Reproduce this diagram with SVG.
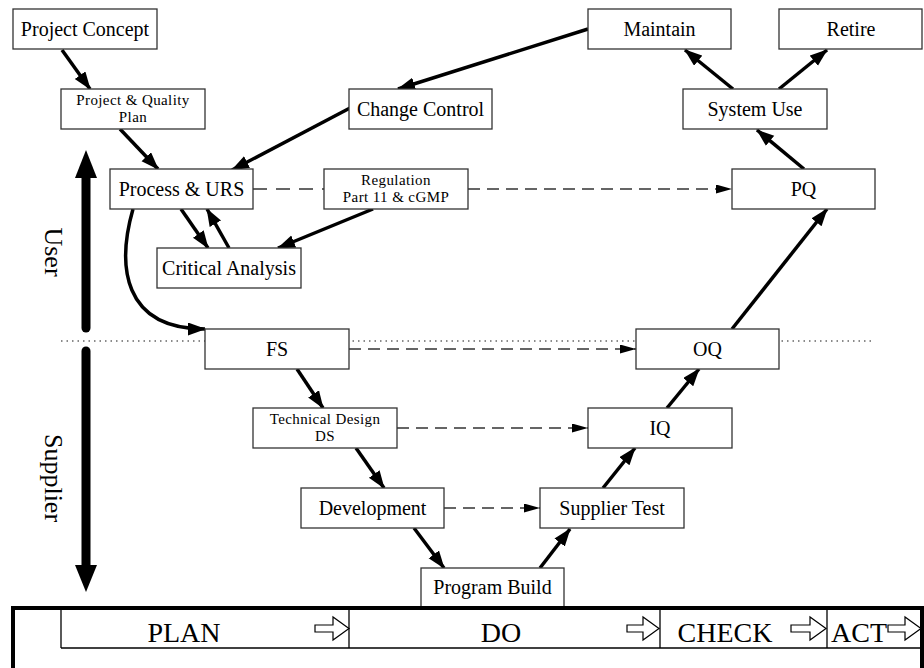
<svg xmlns="http://www.w3.org/2000/svg" width="924" height="668" viewBox="0 0 924 668">
  <style>
    .box { fill: #ffffff; stroke: #333333; stroke-width: 1.3; }
    .lbl { font-family: "Liberation Serif", "Times New Roman", serif; font-size: 20px; fill: #000; text-anchor: middle; }
    .sm { font-size: 15px; letter-spacing: 0.4px; }
    .flow { fill: none; stroke: #000; stroke-width: 3.5; marker-end: url(#head); }
    .trace { fill: none; stroke: #333; stroke-width: 1.5; stroke-dasharray: 12 7; marker-end: url(#small); }
    .band { fill: none; stroke: #000; stroke-width: 1.3; }
    .phase { font-family: "Liberation Serif", "Times New Roman", serif; font-size: 28px; fill: #000; text-anchor: middle; }
    .hollow { fill: #fff; stroke: #000; stroke-width: 1.2; }
    .side { font-family: "Liberation Serif", "Times New Roman", serif; font-size: 26px; fill: #000; text-anchor: middle; }
  </style>
  <defs>
    <marker id="head" markerUnits="userSpaceOnUse" markerWidth="19" markerHeight="14" refX="17" refY="6.5" orient="auto">
      <path d="M0,0 L18,6.5 L0,13 z" fill="#000"/>
    </marker>
    <marker id="small" markerUnits="userSpaceOnUse" markerWidth="17" markerHeight="10" refX="16" refY="4.5" orient="auto">
      <path d="M0,0 L16,4.5 L0,9 z" fill="#000"/>
    </marker>
  </defs>

  <rect width="924" height="668" fill="#fff"/>

  <!-- lane divider between user and supplier -->
  <line x1="61" y1="341" x2="875" y2="341" stroke="#666" stroke-width="1.3" stroke-dasharray="1.5 4"/>

  <!-- lane arrows -->
  <g id="lane-user">
    <line x1="86" y1="176" x2="86" y2="328" stroke="#000" stroke-width="9" stroke-linecap="round"/>
    <path d="M86,150 L97,178 L75,178 z" fill="#000"/>
    <text class="side" transform="translate(45,252) rotate(90)">User</text>
  </g>
  <g id="lane-supplier">
    <line x1="86" y1="351" x2="86" y2="567" stroke="#000" stroke-width="9" stroke-linecap="round"/>
    <path d="M86,592 L97,565 L75,565 z" fill="#000"/>
    <text class="side" transform="translate(45,478) rotate(90)">Supplier</text>
  </g>

  <!-- connectors -->
  <g id="connectors">
    <line class="flow" x1="62" y1="50" x2="90" y2="89"/>
    <line class="flow" x1="120" y1="129" x2="158" y2="169"/>
    <line class="flow" x1="588" y1="29" x2="398" y2="89"/>
    <line class="flow" x1="350" y1="108" x2="232" y2="170"/>
    <line class="flow" x1="181" y1="209" x2="208" y2="248"/>
    <line class="flow" x1="229" y1="248" x2="207" y2="209"/>
    <line class="flow" x1="373" y1="209" x2="278" y2="248"/>
    <path class="flow" d="M133,209 C117,265 122,329 205,329"/>
    <line class="flow" x1="297" y1="369" x2="323" y2="408"/>
    <line class="flow" x1="356" y1="448" x2="384" y2="488"/>
    <line class="flow" x1="414" y1="528" x2="444" y2="568"/>
    <line class="flow" x1="540" y1="568" x2="570" y2="529"/>
    <line class="flow" x1="603" y1="488" x2="635" y2="448"/>
    <line class="flow" x1="667" y1="408" x2="699" y2="369"/>
    <line class="flow" x1="732" y1="329" x2="827" y2="209"/>
    <line class="flow" x1="804" y1="169" x2="757" y2="130"/>
    <line class="flow" x1="733" y1="89" x2="685" y2="50"/>
    <line class="flow" x1="779" y1="89" x2="827" y2="50"/>

    <line x1="253" y1="189" x2="324" y2="189" stroke="#333" stroke-width="1.5" stroke-dasharray="14 9"/>
    <line class="trace" x1="468" y1="189" x2="732" y2="189"/>
    <line class="trace" x1="349" y1="349" x2="636" y2="349"/>
    <line class="trace" x1="397" y1="428" x2="588" y2="428"/>
    <line class="trace" x1="444" y1="508" x2="540" y2="508"/>
  </g>

  <!-- nodes -->
  <g id="project-concept">
    <rect class="box" x="13" y="9" width="144" height="40"/>
    <text class="lbl" x="85" y="35.5">Project Concept</text>
  </g>
  <g id="project-quality-plan">
    <rect class="box" x="61" y="89" width="144" height="40"/>
    <text class="lbl sm" x="133" y="105">Project &amp; Quality</text>
    <text class="lbl sm" x="133" y="122">Plan</text>
  </g>
  <g id="process-urs">
    <rect class="box" x="110" y="169" width="143" height="40"/>
    <text class="lbl" x="181.5" y="195.5">Process &amp; URS</text>
  </g>
  <g id="critical-analysis">
    <rect class="box" x="157" y="248" width="144" height="40"/>
    <text class="lbl" x="229" y="275">Critical Analysis</text>
  </g>
  <g id="change-control">
    <rect class="box" x="349" y="89" width="143" height="40"/>
    <text class="lbl" x="420.5" y="115.5">Change Control</text>
  </g>
  <g id="regulation">
    <rect class="box" x="324" y="169" width="144" height="40"/>
    <text class="lbl sm" x="396" y="185">Regulation</text>
    <text class="lbl sm" x="396" y="202">Part 11 &amp; cGMP</text>
  </g>
  <g id="maintain">
    <rect class="box" x="588" y="9" width="143" height="40"/>
    <text class="lbl" x="659.5" y="35.5">Maintain</text>
  </g>
  <g id="retire">
    <rect class="box" x="779" y="9" width="143" height="40"/>
    <text class="lbl" x="851" y="35.5">Retire</text>
  </g>
  <g id="system-use">
    <rect class="box" x="683" y="89" width="144" height="40"/>
    <text class="lbl" x="755" y="115.5">System Use</text>
  </g>
  <g id="pq">
    <rect class="box" x="732" y="169" width="143" height="40"/>
    <text class="lbl" x="803.5" y="195.5">PQ</text>
  </g>
  <g id="fs">
    <rect class="box" x="205" y="329" width="144" height="40"/>
    <text class="lbl" x="277" y="355.5">FS</text>
  </g>
  <g id="oq">
    <rect class="box" x="636" y="329" width="143" height="40"/>
    <text class="lbl" x="707.5" y="355.5">OQ</text>
  </g>
  <g id="technical-design">
    <rect class="box" x="253" y="408" width="144" height="40"/>
    <text class="lbl sm" x="325" y="424">Technical Design</text>
    <text class="lbl sm" x="325" y="441">DS</text>
  </g>
  <g id="iq">
    <rect class="box" x="588" y="408" width="144" height="40"/>
    <text class="lbl" x="660" y="435">IQ</text>
  </g>
  <g id="development">
    <rect class="box" x="301" y="488" width="143" height="40"/>
    <text class="lbl" x="372.5" y="514.5">Development</text>
  </g>
  <g id="supplier-test">
    <rect class="box" x="540" y="488" width="144" height="40"/>
    <text class="lbl" x="612" y="514.5">Supplier Test</text>
  </g>
  <g id="program-build">
    <rect class="box" x="421" y="568" width="143" height="40"/>
    <text class="lbl" x="492.5" y="594">Program Build</text>
  </g>

  <!-- PDCA band -->
  <g id="pdca">
    <path d="M13,672 V608 H922 V672" fill="#fff" stroke="#000" stroke-width="4"/>
    <line class="band" x1="61" y1="609" x2="61" y2="648"/>
    <line class="band" x1="61" y1="648" x2="920" y2="648"/>
    <line class="band" x1="349" y1="609" x2="349" y2="648"/>
    <line class="band" x1="660" y1="609" x2="660" y2="648"/>
    <line class="band" x1="827" y1="609" x2="827" y2="648"/>
    <text class="phase" x="184" y="642">PLAN</text>
    <text class="phase" x="501" y="642">DO</text>
    <text class="phase" x="725" y="642">CHECK</text>
    <text class="phase" x="859" y="642">ACT</text>
    <path class="hollow" d="M315,625 H333 V617 L349,628.5 L333,640 V632 H315 Z"/>
    <path class="hollow" d="M627,625 H643 V617 L659,628.5 L643,640 V632 H627 Z"/>
    <path class="hollow" d="M791,625 H810 V617 L826,628.5 L810,640 V632 H791 Z"/>
    <path class="hollow" d="M888,625 H905 V617 L921,628.5 L905,640 V632 H888 Z"/>
  </g>
</svg>
